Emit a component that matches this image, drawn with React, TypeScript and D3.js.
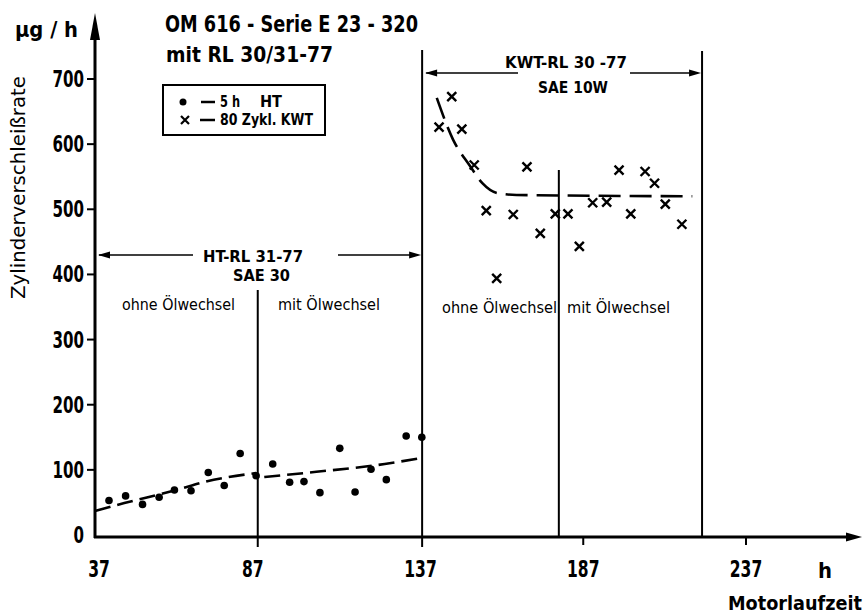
import React from "react";
import * as d3 from "d3";

// Measured wear rates (µg/h) over engine running time (h)
const htHours = [41.3, 46.4, 51.6, 56.7, 61.4, 66.5, 71.8, 76.7, 81.6, 86.5, 91.6, 96.8, 101.2, 106.1, 112.2, 116.9, 121.8, 126.5, 132.6, 137.4];
const htRate = [53, 60, 47, 58, 69, 68, 96, 76, 125, 91, 109, 81, 82, 65, 133, 66, 101, 85, 152, 150];

const kwtHours = [142.7, 146.6, 149.7, 153.5, 157.2, 160.4, 165.5, 169.7, 173.8, 178.4, 182.3, 185.8, 189.9, 194.2, 198, 201.6, 206, 208.9, 212.2, 217.3];
const kwtRate = [626, 673, 623, 568, 498, 394, 492, 565, 463, 493, 493, 443, 510, 511, 560, 493, 558, 540, 508, 477];

// Hand-fitted trend curves
const htTrendAHours = [37, 46, 62, 71, 86.5];
const htTrendARate = [37, 49, 69, 82, 95];
const htTrendBHours = [89, 105, 126, 137];
const htTrendBRate = [89, 97, 109, 118];
const kwtTrendHours = [142, 147, 152, 156, 160.5, 166.5, 220.5];
const kwtTrendRate = [671, 607, 568, 540, 525, 522, 520];

// Test phase boundaries (h)
const oilChangeHT = 87;
const phaseSplit = 137.5;
const oilChangeKWT = 179.5;
const kwtEnd = 223.5;

const xTicks = [37, 87, 137, 187, 237];
const yTicks = [0, 100, 200, 300, 400, 500, 600, 700];

const FONT = "'Liberation Sans Narrow', 'DejaVu Sans Condensed', 'Liberation Sans', sans-serif";

type TProps = {
  x: number;
  y: number;
  w: number;
  size: number;
  weight?: string | number;
  children: React.ReactNode;
};

// Text placed by left edge with a fixed run length
function T({ x, y, w, size, weight = "bold", children }: TProps) {
  return (
    <text
      x={x}
      y={y}
      fontSize={size}
      fontWeight={weight}
      fontFamily={FONT}
      textLength={w}
      lengthAdjust="spacingAndGlyphs"
      fill="#000"
    >
      {children}
    </text>
  );
}

export default function App() {
  const W = 863;
  const H = 614;
  const x = d3.scaleLinear().domain([37, 237]).range([95, 746]);
  const y = d3.scaleLinear().domain([0, 700]).range([535, 79]);
  const axisY = 537;

  const trend = d3
    .line<[number, number]>()
    .x((d) => x(d[0]))
    .y((d) => y(d[1]))
    .curve(d3.curveMonotoneX);

  const zip = (a: number[], b: number[]) => a.map((v, i) => [v, b[i]] as [number, number]);

  const cross = (cx: number, cy: number, s: number) =>
    `M${cx - s},${cy - s}L${cx + s},${cy + s}M${cx - s},${cy + s}L${cx + s},${cy - s}`;

  const arrowHead = (tipX: number, tipY: number, dir: number, len = 12, half = 3.5) =>
    `M${tipX},${tipY}L${tipX - dir * len},${tipY - half}L${tipX - dir * len},${tipY + half}Z`;

  const xl = x(37);

  return (
    <svg width={W} height={H} style={{ position: "absolute", left: 0, top: 0, background: "#fff" }}>
      <rect width={W} height={H} fill="#fff" />

      {/* Titles */}
      <T x={15} y={37} w={63} size={21}>µg / h</T>
      <T x={165} y={32} w={253} size={23}>OM 616 - Serie  E 23 - 320</T>
      <T x={166} y={62} w={167} size={22}>mit RL 30/31-77</T>

      {/* Legend */}
      <rect x={163} y={85} width={162} height={50} fill="none" stroke="#000" strokeWidth={2} />
      <circle cx={183} cy={102} r={3.5} fill="#000" />
      <line x1={201} x2={215} y1={102} y2={102} stroke="#000" strokeWidth={2.5} />
      <T x={220} y={107} w={20} size={16}>5 h</T>
      <T x={260} y={107} w={22} size={16}>HT</T>
      <path d={cross(185, 120, 4)} stroke="#000" strokeWidth={2.2} />
      <line x1={200} x2={215} y1={120} y2={120} stroke="#000" strokeWidth={2.5} />
      <T x={220} y={125} w={93} size={16}>80 Zykl. KWT</T>

      {/* Phase boundary lines */}
      <line x1={x(oilChangeHT)} x2={x(oilChangeHT)} y1={290} y2={axisY + 10} stroke="#000" strokeWidth={2} />
      <line x1={x(phaseSplit)} x2={x(phaseSplit)} y1={50} y2={axisY + 10} stroke="#000" strokeWidth={2} />
      <line x1={x(oilChangeKWT)} x2={x(oilChangeKWT)} y1={170} y2={axisY} stroke="#000" strokeWidth={2} />
      <line x1={x(kwtEnd)} x2={x(kwtEnd)} y1={51} y2={axisY} stroke="#000" strokeWidth={2} />

      {/* HT phase span */}
      <line x1={xl + 4} x2={193} y1={255} y2={255} stroke="#000" strokeWidth={1.6} />
      <path d={arrowHead(xl + 3, 255, -1)} fill="#000" />
      <line x1={338} x2={x(phaseSplit) - 4} y1={255} y2={255} stroke="#000" strokeWidth={1.6} />
      <path d={arrowHead(x(phaseSplit) - 1, 255, 1)} fill="#000" />
      <T x={203} y={262} w={100} size={15}>HT-RL 31-77</T>
      <T x={233} y={281} w={57} size={15}>SAE 30</T>
      <T x={122} y={310} w={113} size={16} weight="normal">ohne Ölwechsel</T>
      <T x={278} y={310} w={102} size={16} weight="normal">mit Ölwechsel</T>

      {/* KWT phase span */}
      <line x1={x(phaseSplit) + 4} x2={518} y1={73} y2={73} stroke="#000" strokeWidth={1.6} />
      <path d={arrowHead(x(phaseSplit) + 3, 73, -1)} fill="#000" />
      <line x1={630} x2={x(kwtEnd) - 4} y1={73} y2={73} stroke="#000" strokeWidth={1.6} />
      <path d={arrowHead(x(kwtEnd) - 1, 73, 1)} fill="#000" />
      <T x={505} y={68} w={122} size={16}>KWT-RL 30 -77</T>
      <T x={538} y={93} w={70} size={16}>SAE 10W</T>
      <T x={442} y={313} w={115} size={16} weight="normal">ohne Ölwechsel</T>
      <T x={567} y={313} w={103} size={16} weight="normal">mit Ölwechsel</T>

      {/* Trend curves */}
      <path d={trend(zip(htTrendAHours, htTrendARate)) || ""} fill="none" stroke="#000" strokeWidth={2.6} strokeDasharray="16 7" />
      <path d={trend(zip(htTrendBHours, htTrendBRate)) || ""} fill="none" stroke="#000" strokeWidth={2.6} strokeDasharray="16 7" />
      <path d={trend(zip(kwtTrendHours, kwtTrendRate)) || ""} fill="none" stroke="#000" strokeWidth={2.6} strokeDasharray="22 9" />

      {/* Measurements */}
      {htHours.map((h, i) => (
        <circle key={`ht${i}`} cx={x(h)} cy={y(htRate[i])} r={3.8} fill="#000" />
      ))}
      {kwtHours.map((h, i) => (
        <path key={`kwt${i}`} d={cross(x(h), y(kwtRate[i]), 4.5)} stroke="#000" strokeWidth={2.4} />
      ))}

      {/* Y axis */}
      <line x1={xl} x2={xl} y1={axisY + 1} y2={38} stroke="#000" strokeWidth={3} />
      <path d={`M${xl},13L${xl - 5},40L${xl + 5},40Z`} fill="#000" />
      {yTicks.map((t) => (
        <g key={`yt${t}`}>
          {t > 0 && <line x1={xl - 8} x2={xl} y1={y(t)} y2={y(t)} stroke="#000" strokeWidth={2} />}
          <T x={84 - String(t).length * 10.5} y={y(t) + 8} w={String(t).length * 10.5} size={23}>
            {String(t)}
          </T>
        </g>
      ))}
      <text
        transform={`translate(25, ${188}) rotate(-90)`}
        textAnchor="start"
        x={-111}
        y={0}
        fontSize={20}
        fontFamily={FONT}
        textLength={223}
        lengthAdjust="spacingAndGlyphs"
      >
        Zylinderverschleißrate
      </text>

      {/* X axis */}
      <line x1={xl - 1} x2={848} y1={axisY} y2={axisY} stroke="#000" strokeWidth={3} />
      <path d={`M862,${axisY}L846,${axisY - 4.5}L846,${axisY + 4.5}Z`} fill="#000" />
      {xTicks.map((t) => {
        const n = String(t).length;
        const w = n * 10.8;
        return (
          <g key={`xt${t}`}>
            {t > 137 && <line x1={x(t)} x2={x(t)} y1={axisY} y2={axisY + 8} stroke="#000" strokeWidth={2} />}
            <T x={x(t) - w / 2 + (t === 37 ? 4 : t === 87 ? -5 : 0)} y={577} w={w} size={23}>
              {String(t)}
            </T>
          </g>
        );
      })}
      <T x={818} y={578} w={14} size={22}>h</T>
      <T x={728} y={610} w={134} size={19}>Motorlaufzeit</T>
    </svg>
  );
}
